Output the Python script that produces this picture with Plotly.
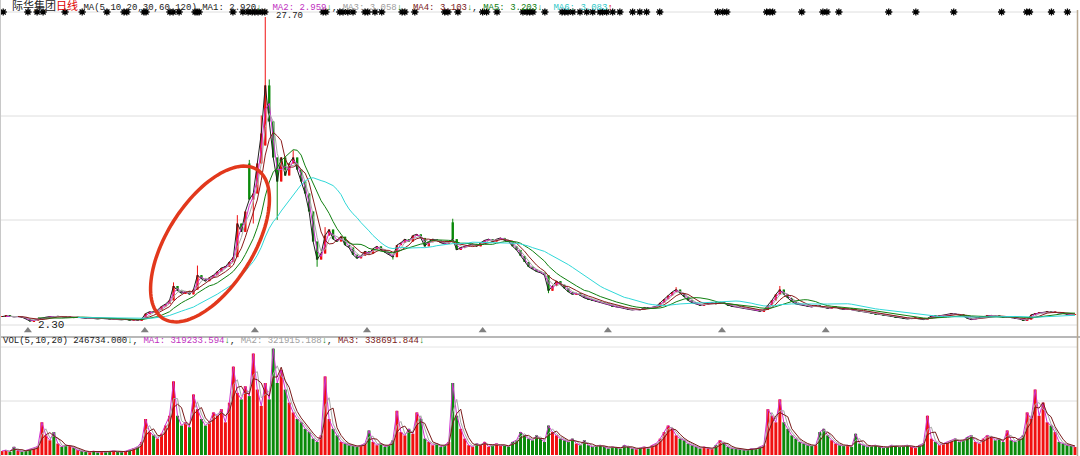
import numpy as np
import pandas as pd
import plotly.graph_objects as go

W, H = 1080, 456

# ---------------- data (one candle ~ 5-6 trading days) ----------------
close = [
    2.75, 2.80, 2.78, 2.72, 2.76, 2.70, 2.55,                    # 0-6
    2.38, 2.45, 2.55, 2.62,                                      # 7-10
    2.70, 2.75, 2.72, 2.78, 2.74, 2.68, 2.71, 2.66, 2.70, 2.64,  # 11-20
    2.60, 2.63, 2.58, 2.55, 2.60, 2.57, 2.52, 2.55, 2.50, 2.48,
    2.52, 2.46, 2.50, 2.45, 2.55,                                # 21-35
    3.00, 3.15, 3.10, 3.30, 3.60,                                # 36-40
    3.80, 4.10, 5.30,                                            # 41-43
    4.90, 4.70, 4.85, 4.60, 5.00,                                # 44-48
    6.20,                                                        # 49
    5.90, 5.70, 6.00, 6.20,                                      # 50-53
    6.50, 6.80, 6.90, 7.30,                                      # 54-57
    7.70,                                                        # 58
    10.50,                                                       # 59
    9.80, 11.50,                                                 # 60-61
    12.50,                                                       # 62
    13.00,                                                       # 63
    15.50,                                                       # 64
    18.00,                                                       # 65
    22.00,                                                       # 66
    19.00,                                                       # 67
    16.00,                                                       # 68
    14.00,                                                       # 69
    16.00, 14.50, 15.50, 16.00, 15.00, 14.00,                    # 70-75
    13.00, 11.50, 9.00, 7.50,                                    # 76-79
    8.00, 9.50, 10.00, 9.20, 9.00, 9.40, 8.70, 8.50,             # 80-87
    7.90, 7.60, 7.80,                                            # 88-90
    8.20, 8.00, 8.40, 8.60, 8.30,                                # 91-95
    8.10, 7.90, 7.70,                                            # 96-98
    8.70, 8.90, 9.20, 9.00, 9.50, 9.60, 9.30,                    # 99-105
    8.60, 9.00, 9.20, 9.10, 8.90, 8.80, 9.00,                    # 106-112
    9.20,                                                        # 113
    8.30, 8.50, 8.60, 8.70, 8.80, 8.60, 8.90,                    # 114-120
    9.10, 9.20, 9.00, 9.20, 9.30, 9.10, 9.00,                    # 121-127
    8.60, 8.30, 7.80, 7.30, 6.90,                                # 128-132
    6.70, 6.50, 6.40, 6.20,                                      # 133-136
    4.90,                                                        # 137
    5.30, 5.70,                                                  # 138-139
    5.40, 5.10, 4.80, 4.60,                                      # 140-143
    4.70, 4.50, 4.30, 4.20,                                      # 144-147
    4.10, 4.00, 3.90, 3.80, 3.75,                                # 148-152
    3.60, 3.55, 3.50, 3.40, 3.35, 3.30, 3.35, 3.30,              # 153-160
    3.50, 3.45, 3.55, 3.60,                                      # 161-164
    3.90, 4.20, 4.50, 4.80,                                      # 165-168
    5.00, 4.70, 4.40,                                            # 169-171
    4.10, 3.90, 3.80, 3.70, 3.75,                                # 172-176
    3.85, 3.90, 3.80, 3.95, 3.85, 3.70, 3.60,                    # 177-183
    3.55, 3.50, 3.45, 3.40, 3.30, 3.25, 3.20, 3.30,              # 184-191
    3.70, 4.10, 4.60, 5.00,                                      # 192-195
    4.60, 4.30, 4.00, 3.80,                                      # 196-199
    3.75, 3.70, 3.60, 3.55, 3.65, 3.60, 3.50,                    # 200-206
    3.45, 3.50, 3.55, 3.40, 3.35, 3.40, 3.30, 3.25,              # 207-214
    3.20, 3.15, 3.10, 3.00, 2.95, 2.90, 2.85, 2.80, 2.75, 2.70,  # 215-224
    2.65, 2.60, 2.55, 2.60, 2.62, 2.55, 2.50, 2.60,              # 225-232
    2.80, 2.75, 2.80, 2.85, 2.90, 3.00, 2.95, 2.90,              # 233-240
    2.80, 2.60, 2.50, 2.55, 2.70,                                # 241-245
    2.75, 2.80, 2.85, 2.80, 2.75, 2.70, 2.72,                    # 246-252
    2.68, 2.60, 2.55, 2.45, 2.50,                                # 253-257
    2.90, 3.00, 3.05, 3.10, 3.15, 3.10, 3.12,                    # 258-264
    3.05, 3.00, 2.95, 2.90, 2.92,                                # 265-269
]

# volume in thousands of shares
volume_k = [
    120, 150, 100, 250, 130, 110, 140,                           # 0-6
    180, 200, 260, 1000,                                         # 7-10
    600, 450, 700, 350, 250,                                     # 11-15
    300, 280, 220, 150, 120,                                     # 16-20
    100, 90, 120, 80, 100, 90, 110, 130, 100, 90,
    120, 150, 200, 250, 400,                                     # 21-35
    1100, 700, 600, 500, 650,                                    # 36-40
    900, 1200, 2250,                                             # 41-43
    1200, 900, 1000, 850, 1850,                                  # 44-48
    1400, 1100, 900, 1000, 1300,                                 # 49-53
    1200, 1400, 1000, 1600,                                      # 54-57
    2700, 1900, 1700, 2100, 1800,                                # 58-62
    3100, 2000, 1500, 2200,                                      # 63-66
    1700,                                                        # 67
    3250,                                                        # 68
    2200, 2600, 2000, 1600,                                      # 69-72
    1300, 1100, 1000,                                            # 73-75
    800, 700, 500, 400,                                          # 76-79
    600, 2400,                                                   # 80-81
    1100, 800, 600,                                              # 82-84
    400, 350, 300, 280, 250, 300, 350, 750,                      # 85-92
    400, 300, 350, 250, 300, 450,                                # 93-98
    1350,                                                        # 99
    700, 600, 800, 650,                                          # 100-103
    1300, 1100,                                                  # 104-105
    500, 400, 300, 350, 250, 300, 400,                           # 106-112
    2200,                                                        # 113
    1200, 800, 500,                                              # 114-116
    300, 250, 350, 300, 400, 250, 300, 350, 280, 300, 260,       # 117-127
    400, 450, 700, 600, 500, 450, 600, 500, 400,                 # 128-136
    900, 700, 600, 500, 450, 400, 500,                           # 137-143
    350, 300, 450, 300, 250, 280, 300, 250, 200,                 # 144-152
    250, 220, 200, 300, 250, 200, 180, 220, 250, 200, 300, 350,  # 153-164
    500, 700, 900, 800, 600, 500, 450,                           # 165-171
    350, 300, 250, 200, 250, 200, 180, 300, 450, 350, 250, 200,  # 172-183
    200, 180, 150, 160, 200, 180, 250, 300,                      # 184-191
    1400, 1200, 1000, 1700,                                      # 192-195
    1000, 800, 600, 500,                                         # 196-199
    400, 350, 300, 280, 300, 700, 800,                           # 200-206
    600, 450, 350, 300, 280, 300, 250, 650,                      # 207-214
    350, 300, 250, 280, 300, 250, 220, 250, 300, 280,            # 215-224
    250, 280, 300, 250, 220, 300, 350, 1200,                     # 225-232
    500, 400, 300, 350, 400, 450, 500, 400,                      # 233-240
    450, 550, 600, 400, 350,                                     # 241-245
    500, 600, 550, 450, 500, 400, 750,                           # 246-252
    450, 400, 500, 600, 1300,                                    # 253-257
    1100, 2000, 1200, 1600, 1000, 900, 700,                      # 258-264
    400, 350, 300, 280, 246.734,                                 # 265-269
]

# candles whose open is not the previous close
open_override = {62: 15.50, 113: 10.60, 66: 17.00}
# notable wicks
high_ext = {43: 5.60, 49: 7.00, 59: 11.20, 62: 15.80, 65: 19.50, 66: 27.70,
            67: 22.50, 73: 16.60, 81: 10.20, 113: 10.90, 169: 5.20, 195: 5.30}
low_ext = {7: 2.30, 63: 10.50, 69: 10.80, 79: 6.90, 98: 7.50, 113: 8.90, 137: 4.70}

# signal stars along the top line (candle positions)
star_pos = [0.3, 6.5, 8.8, 10.3, 15.8, 20.1, 26.3, 30.6, 31.3, 35.6, 36.1, 42.1,
            42.9, 44.4, 48.4, 48.9, 49.4, 57.9, 60.4, 61.7, 62.7, 63.4, 64.2,
            65.2, 65.9, 80.5, 81.2, 84.7, 85.5, 86.7, 88.0, 91.0, 91.7, 93.5,
            95.2, 100.3, 101.0, 103.5, 111.0, 111.8, 114.3, 120.5, 121.5, 124.1,
            130.6, 131.6, 132.3, 133.1, 136.1, 140.4, 141.1, 141.9, 143.1, 144.9,
            146.6, 148.1, 149.9, 150.6, 151.6, 153.1, 154.9, 158.1, 159.9, 161.6,
            164.9, 179.4, 180.7, 181.7, 191.7, 192.5, 193.2, 200.5, 205.8, 206.8,
            209.8, 222.3, 229.1, 238.6, 250.6, 256.9, 257.6, 263.1, 267.1]
# period markers under the price panel
tri_pos = [6.5, 35.8, 63.4, 91.5, 120.5, 151.9, 180.5, 206.5]

price_ma_windows = [1, 2, 3, 5, 10, 20]      # MA5..MA120 at candle granularity
price_ma_colors = ["#202020", "#d030d0", "#a8a8a8", "#8b1a1a", "#108010", "#30d8d8"]
vol_ma_windows = [1, 2, 3]
vol_ma_colors = ["#d030d0", "#a8a8a8", "#7a1a1a"]

UP, DOWN = "#f01010", "#0a8a0a"

# ---------------- derived ----------------
n = len(close)
if len(volume_k) != n:
    raise ValueError(f"length mismatch close={n} vol={len(volume_k)}")
x = np.arange(n)
opn = [close[0]] + close[:-1]
for k, v in open_override.items():
    opn[k] = v
high = [max(o, c) for o, c in zip(opn, close)]
low = [min(o, c) for o, c in zip(opn, close)]
for k, v in high_ext.items():
    high[k] = max(high[k], v)
for k, v in low_ext.items():
    low[k] = min(low[k], v)
up = [c >= o for o, c in zip(opn, close)]
colors = [UP if u else DOWN for u in up]
vol = np.array(volume_k) * 1000.0

# axis geometry (pixels)
P_TOP, P_BOT = 12, 325        # grid frame of the price panel
P_AX_BOT = 334                # axis extends a little lower for the period markers
V_TOP, V_BOT = 347, 455
pmax, pmin = 28.116, 2.050
k_px = (pmax - pmin) / (P_BOT - P_TOP)
pmin_ax = pmin - (P_AX_BOT - P_BOT) * k_px

def py(px):
    return 1 - px / H

fig = go.Figure()

body_base = [min(o, c) for o, c in zip(opn, close)]
body_h = [max(abs(c - o), 0.04) for o, c in zip(opn, close)]
for col, flag in [(UP, True), (DOWN, False)]:
    wx, wy = [], []
    for i in range(n):
        if up[i] == flag:
            wx += [i, i, None]
            wy += [low[i], high[i], None]
    fig.add_trace(go.Scatter(x=wx, y=wy, mode="lines", line=dict(color=col, width=1),
                             xaxis="x", yaxis="y", hoverinfo="skip", showlegend=False))
fig.add_trace(go.Bar(x=x, y=body_h, base=body_base, marker=dict(color=colors, line=dict(width=0)),
                     width=0.6, xaxis="x", yaxis="y", showlegend=False))

cs = pd.Series(close)
for w, c in zip(price_ma_windows, price_ma_colors):
    m = cs.rolling(w).mean()
    fig.add_trace(go.Scatter(x=x, y=m, mode="lines", line=dict(color=c, width=1),
                             xaxis="x", yaxis="y", showlegend=False, hoverinfo="skip"))

fig.add_trace(go.Bar(x=x, y=vol, marker=dict(color=colors, line=dict(width=0)), width=0.75,
                     xaxis="x2", yaxis="y2", showlegend=False))
vs = pd.Series(vol)
for w, c in zip(vol_ma_windows, vol_ma_colors):
    m = vs.rolling(w).mean()
    fig.add_trace(go.Scatter(x=x, y=m, mode="lines", line=dict(color=c, width=1),
                             xaxis="x2", yaxis="y2", showlegend=False, hoverinfo="skip"))

fig.add_trace(go.Scatter(x=star_pos, y=[pmax] * len(star_pos), mode="markers",
                         marker=dict(symbol="asterisk-open", size=6, color="#000000",
                                     line=dict(color="#000000", width=1.3)),
                         xaxis="x", yaxis="y", cliponaxis=False, showlegend=False, hoverinfo="skip"))
fig.add_trace(go.Scatter(x=tri_pos, y=[pmin - 5.5 * k_px] * len(tri_pos), mode="markers",
                         marker=dict(symbol="triangle-up", size=7, color="#808080"),
                         xaxis="x", yaxis="y", cliponaxis=False, showlegend=False, hoverinfo="skip"))

shapes = []
def hline(ypx, color, width=1, x0=0, x1=1077):
    shapes.append(dict(type="line", xref="paper", yref="paper", x0=x0 / W, x1=x1 / W,
                       y0=py(ypx), y1=py(ypx), line=dict(color=color, width=width), layer="below"))
for ypx in [P_TOP, 116, 220, P_BOT]:
    hline(ypx, "#dedede")
hline(337, "#a0a0a0", 1.5, 0, 1080)
hline(V_TOP, "#e4e4e4")
hline(401, "#dedede")
shapes.append(dict(type="line", xref="paper", yref="paper", x0=0.5 / W, x1=0.5 / W, y0=0, y1=1,
                   line=dict(color="#c8c8c8", width=1)))
shapes.append(dict(type="line", xref="paper", yref="paper", x0=1077.5 / W, x1=1077.5 / W, y0=0, y1=py(10),
                   line=dict(color="#b8a890", width=1.5)))

cx, cy, a, b = 210, 244, 88, 43
ux, uy = 0.534, -0.846
vx, vy = 0.846, 0.534
pts = []
for t in np.linspace(0, 2 * np.pi, 121):
    pxx = cx + a * np.cos(t) * ux + b * np.sin(t) * vx
    pyy = cy + a * np.cos(t) * uy + b * np.sin(t) * vy
    pts.append((pxx / W, py(pyy)))
path = "M " + " L ".join(f"{p[0]:.5f},{p[1]:.5f}" for p in pts) + " Z"
shapes.append(dict(type="path", xref="paper", yref="paper", path=path,
                   line=dict(color="#e2381c", width=3.5)))

FONT = "Liberation Mono, Noto Sans CJK SC, monospace"
G = '<span style="color:#108010">↓</span>'
R = '<span style="color:#e00000">↑</span>'
header = ('<span style="font-size:11px">际华集团</span>'
          '<span style="font-size:11px;color:#e00000">日线</span> '
          'MA(5,10,20,30,60,120) MA1: 2.920' + G + ', '
          '<span style="color:#c030c0">MA2: 2.959</span>' + G + ', '
          '<span style="color:#a0a0a0">MA3: 3.058</span>' + G + ', '
          '<span style="color:#7a1a1a">MA4: 3.103</span>' + G + ', '
          '<span style="color:#108010">MA5: 3.203</span>' + G + ', '
          '<span style="color:#30c8c8">MA6: 3.083</span>' + R)
vheader = ('VOL(5,10,20) 246734.000' + G + ', '
           '<span style="color:#c030c0">MA1: 319233.594</span>' + G + ', '
           '<span style="color:#a0a0a0">MA2: 321915.188</span>' + G + ', '
           '<span style="color:#7a1a1a">MA3: 338691.844</span>' + G)

annotations = [
    dict(xref="paper", yref="paper", x=10 / W, y=py(5.5), xanchor="left", yanchor="middle",
         text=header, showarrow=False, font=dict(family=FONT, size=9, color="#202020")),
    dict(xref="paper", yref="paper", x=1 / W, y=py(341), xanchor="left", yanchor="middle",
         text=vheader, showarrow=False, font=dict(family=FONT, size=9, color="#202020")),
    dict(xref="x", yref="y", x=66, y=27.70, xanchor="left", yanchor="middle", xshift=9, yshift=1,
         text="27.70", showarrow=False, font=dict(family=FONT, size=9, color="#202020")),
    dict(xref="x", yref="y", x=7, y=2.30, xanchor="left", yanchor="middle", xshift=6, yshift=-3,
         text="2.30", showarrow=False, font=dict(family=FONT, size=11, color="#202020")),
]

fig.update_layout(
    width=W, height=H, margin=dict(l=0, r=0, t=0, b=0),
    paper_bgcolor="white", plot_bgcolor="rgba(0,0,0,0)", barmode="overlay", showlegend=False,
    xaxis=dict(domain=[0, 1077 / W], range=[-0.5, n - 0.5], visible=False, anchor="y"),
    xaxis2=dict(domain=[0, 1077 / W], range=[-0.5, n - 0.5], visible=False, anchor="y2", matches="x"),
    yaxis=dict(domain=[py(P_AX_BOT), py(P_TOP)], range=[pmin_ax, pmax], visible=False, anchor="x"),
    yaxis2=dict(domain=[py(V_BOT), py(V_TOP)], range=[0, 3.3e6], visible=False, anchor="x2"),
    shapes=shapes, annotations=annotations,
)

fig.write_html("out.html", config={"displayModeBar": False},
               post_script="document.body.style.margin='0';document.body.style.overflow='hidden';")
